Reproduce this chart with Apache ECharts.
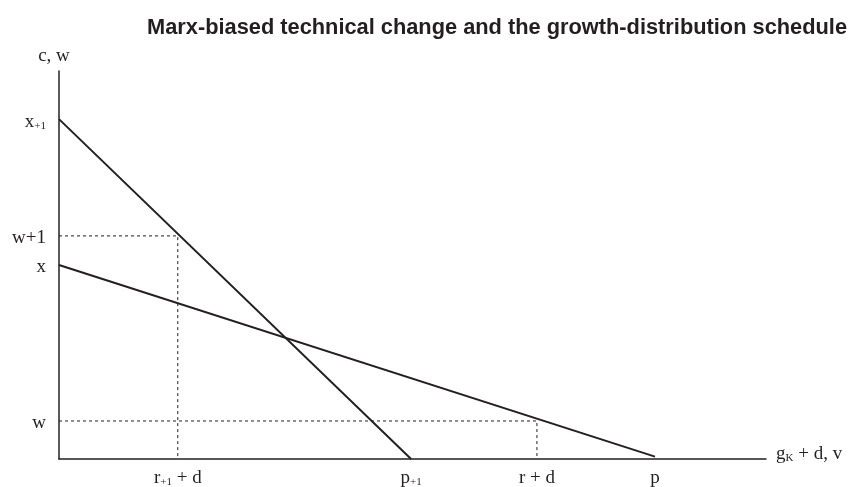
<!DOCTYPE html>
<html>
<head>
<meta charset="utf-8">
<script src="https://cdn.jsdelivr.net/npm/echarts@6/dist/echarts.min.js"></script>
<style>
html,body{margin:0;padding:0;background:#fff;}
#chart{width:860px;height:487px;}
</style>
</head>
<body>
<div id="chart"></div>
<script>
// Values (axes run 0..100 in both directions)
const xTickValues = [16.8, 49.8, 67.6, 84.3];
const xTickLabels = ['{m|r}{sub|+1}{m| + d}', '{m|p}{sub|+1}', '{m|r + d}', '{m|p}'];
const yTickValues = [87.6, 57.5, 50, 9.8];
const yTickLabels = ['{m|x}{sub|+1}', '{m|w+1}', '{m|x}', '{m|w}'];

// Schedules: [x, y] end points
const steepLine = [[0, 87.6], [49.8, 0]];      // x+1 to p+1
const shallowLine = [[0, 50], [84.3, 0.6]];    // x to p
// Dashed guides
const guideUpper = [[0, 57.5], [16.8, 57.5], [16.8, 0]];
const guideLower = [[0, 9.8], [67.6, 9.8], [67.6, 0]];

const serif = '"Liberation Serif", "DejaVu Serif", serif';
const ink = '#231f20';

const chart = echarts.init(document.getElementById('chart'));
const labelMap = (vals, labs) => v => {
  for (let i = 0; i < vals.length; i++) if (Math.abs(vals[i] - v) < 1e-6) return labs[i];
  return '';
};
const rich = {
  m: { fontFamily: serif, fontSize: 19, lineHeight: 19, color: ink, verticalAlign: 'top' },
  sub: { fontFamily: serif, fontSize: 11, lineHeight: 11, color: ink, verticalAlign: 'bottom', padding: [10, 0, 0, 0] }
};

chart.setOption({
  animation: false,
  title: {
    text: 'Marx-biased technical change and the growth-distribution schedule',
    left: 142, top: 12,
    textStyle: { fontFamily: '"Liberation Sans", Arial, sans-serif', fontWeight: 'bold', fontSize: 21.8, color: ink }
  },
  grid: { left: 59, right: 94, top: 71, bottom: 28, containLabel: false, outerBoundsMode: 'none' },
  xAxis: {
    type: 'value', min: 0, max: 100,
    name: '{m|g}{sub|K}{m| + d, v}', nameLocation: 'end', nameGap: 10,
    nameTextStyle: { fontFamily: serif, fontSize: 19, color: ink, padding: [0, 0, 10, 0], rich: rich },
    axisLine: { show: true, lineStyle: { color: ink, width: 1.5 } },
    axisTick: { show: false },
    splitLine: { show: false },
    axisLabel: {
      customValues: xTickValues, margin: 10,
      fontFamily: serif, fontSize: 19, color: ink,
      formatter: labelMap(xTickValues, xTickLabels), rich: rich
    }
  },
  yAxis: {
    type: 'value', min: 0, max: 100,
    name: 'c, w', nameLocation: 'end', nameGap: 5,
    nameTextStyle: { fontFamily: serif, fontSize: 19, color: ink, padding: [0, 10, 0, 0] },
    axisLine: { show: true, lineStyle: { color: ink, width: 1.5 } },
    axisTick: { show: false },
    splitLine: { show: false },
    axisLabel: {
      customValues: yTickValues, margin: 13, padding: [5, 0, 0, 0],
      fontFamily: serif, fontSize: 19, color: ink,
      formatter: labelMap(yTickValues, yTickLabels), rich: rich
    }
  },
  series: [
    { type: 'line', data: steepLine, showSymbol: false, lineStyle: { color: ink, width: 2 }, silent: true },
    { type: 'line', data: shallowLine, showSymbol: false, lineStyle: { color: ink, width: 2 }, silent: true },
    { type: 'line', data: guideUpper, showSymbol: false, lineStyle: { color: ink, width: 1, type: [3, 3] }, silent: true },
    { type: 'line', data: guideLower, showSymbol: false, lineStyle: { color: ink, width: 1, type: [3, 3] }, silent: true }
  ]
});
</script>
</body>
</html>
